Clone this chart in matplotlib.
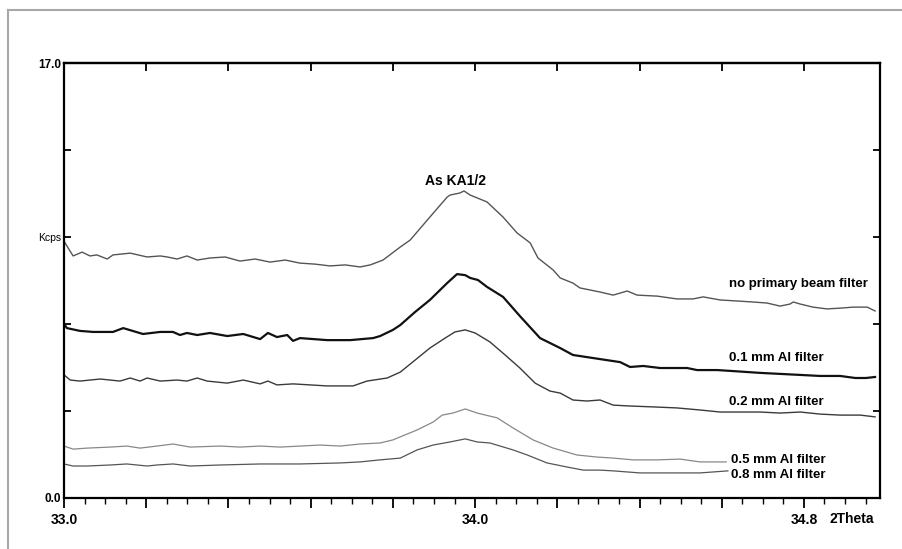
import matplotlib
matplotlib.use("Agg")
import matplotlib.pyplot as plt
from matplotlib.lines import Line2D

plt.rcParams['font.family'] = ['Liberation Sans', 'DejaVu Sans']

# 2Theta / Kcps values
theta_none = [33.000, 33.007, 33.022, 33.044, 33.063, 33.080, 33.105, 33.119, 33.161, 33.202,
              33.234, 33.251, 33.275, 33.299, 33.324, 33.355, 33.392, 33.428, 33.465, 33.501,
              33.538, 33.574, 33.611, 33.647, 33.684, 33.720, 33.745, 33.776, 33.818, 33.842,
              33.890, 33.932, 33.939, 33.963, 33.973, 33.988, 34.029, 34.068, 34.102, 34.134,
              34.153, 34.190, 34.207, 34.238, 34.255, 34.304, 34.336, 34.370, 34.394, 34.443,
              34.491, 34.530, 34.555, 34.596, 34.637, 34.676, 34.710, 34.742, 34.766, 34.774,
              34.791, 34.822, 34.856, 34.888, 34.920, 34.954, 34.973]
kcps_none = [10.04, 9.85, 9.46, 9.61, 9.46, 9.50, 9.34, 9.50, 9.57, 9.42,
             9.46, 9.42, 9.34, 9.46, 9.30, 9.38, 9.42, 9.26, 9.34, 9.22,
             9.30, 9.18, 9.14, 9.07, 9.11, 9.03, 9.11, 9.30, 9.81, 10.08,
             10.98, 11.76, 11.84, 11.92, 12.00, 11.84, 11.57, 10.98, 10.36, 9.97,
             9.38, 8.91, 8.60, 8.40, 8.21, 8.05, 7.93, 8.09, 7.93, 7.89,
             7.78, 7.78, 7.86, 7.74, 7.70, 7.66, 7.62, 7.50, 7.58, 7.66,
             7.58, 7.46, 7.39, 7.42, 7.46, 7.46, 7.31]

theta_01 = [33.000, 33.007, 33.039, 33.071, 33.119, 33.144, 33.192, 33.234, 33.265, 33.282,
            33.299, 33.324, 33.355, 33.397, 33.436, 33.477, 33.496, 33.518, 33.543, 33.557,
            33.574, 33.640, 33.696, 33.752, 33.769, 33.800, 33.818, 33.854, 33.890, 33.932,
            33.956, 33.976, 33.988, 34.007, 34.029, 34.068, 34.109, 34.158, 34.207, 34.238,
            34.287, 34.353, 34.377, 34.409, 34.450, 34.516, 34.540, 34.589, 34.628, 34.693,
            34.742, 34.791, 34.839, 34.888, 34.925, 34.951, 34.973]
kcps_01 = [6.80, 6.64, 6.53, 6.49, 6.49, 6.64, 6.41, 6.49, 6.49, 6.37,
           6.45, 6.37, 6.45, 6.33, 6.41, 6.21, 6.45, 6.29, 6.37, 6.14,
           6.25, 6.17, 6.17, 6.25, 6.33, 6.57, 6.76, 7.27, 7.74, 8.40,
           8.75, 8.71, 8.60, 8.52, 8.25, 7.86, 7.11, 6.25, 5.86, 5.59,
           5.47, 5.31, 5.12, 5.16, 5.08, 5.08, 5.00, 5.00, 4.96, 4.89,
           4.85, 4.81, 4.77, 4.77, 4.69, 4.69, 4.73]

theta_02 = [33.000, 33.015, 33.039, 33.088, 33.136, 33.161, 33.185, 33.202, 33.234, 33.275,
            33.299, 33.324, 33.348, 33.397, 33.436, 33.477, 33.496, 33.518, 33.557, 33.640,
            33.703, 33.737, 33.786, 33.818, 33.854, 33.890, 33.927, 33.951, 33.976, 34.000,
            34.036, 34.073, 34.109, 34.146, 34.182, 34.207, 34.238, 34.272, 34.304, 34.336,
            34.370, 34.433, 34.491, 34.547, 34.596, 34.693, 34.742, 34.791, 34.839, 34.888,
            34.937, 34.973]
kcps_02 = [4.81, 4.61, 4.57, 4.65, 4.57, 4.69, 4.57, 4.69, 4.57, 4.61,
           4.57, 4.69, 4.57, 4.49, 4.61, 4.46, 4.57, 4.42, 4.46, 4.38,
           4.38, 4.57, 4.69, 4.92, 5.39, 5.86, 6.25, 6.49, 6.57, 6.45,
           6.10, 5.59, 5.08, 4.49, 4.18, 4.10, 3.83, 3.79, 3.83, 3.63,
           3.60, 3.56, 3.52, 3.44, 3.36, 3.36, 3.32, 3.36, 3.28, 3.24,
           3.24, 3.17]

theta_05 = [33.000, 33.022, 33.056, 33.112, 33.153, 33.185, 33.226, 33.265, 33.307, 33.380,
            33.428, 33.477, 33.526, 33.574, 33.623, 33.672, 33.720, 33.769, 33.800, 33.859,
            33.898, 33.920, 33.946, 33.976, 34.005, 34.054, 34.092, 34.141, 34.190, 34.248,
            34.297, 34.336, 34.384, 34.443, 34.499, 34.547, 34.611]
kcps_05 = [2.03, 1.91, 1.95, 1.99, 2.03, 1.95, 2.03, 2.11, 1.99, 2.03,
           1.99, 2.03, 1.99, 2.03, 2.07, 2.03, 2.11, 2.15, 2.27, 2.66,
           2.97, 3.24, 3.32, 3.48, 3.32, 3.13, 2.74, 2.27, 1.95, 1.68,
           1.60, 1.56, 1.49, 1.49, 1.52, 1.41, 1.41]

theta_08 = [33.000, 33.022, 33.056, 33.112, 33.153, 33.202, 33.226, 33.265, 33.307, 33.380,
            33.477, 33.574, 33.672, 33.720, 33.769, 33.818, 33.859, 33.898, 33.939, 33.976,
            34.005, 34.036, 34.092, 34.127, 34.175, 34.224, 34.263, 34.304, 34.336, 34.401,
            34.457, 34.499, 34.547, 34.615]
kcps_08 = [1.33, 1.25, 1.25, 1.29, 1.33, 1.25, 1.29, 1.33, 1.25, 1.29,
           1.33, 1.33, 1.37, 1.41, 1.49, 1.56, 1.88, 2.07, 2.19, 2.31,
           2.19, 2.15, 1.88, 1.68, 1.37, 1.21, 1.09, 1.09, 1.06, 0.98,
           0.98, 0.98, 0.98, 1.06]

labels = ['no primary beam filter', '0.1 mm Al filter', '0.2 mm Al filter',
          '0.5 mm Al filter', '0.8 mm Al filter']
label_x = [34.618, 34.618, 34.618, 34.623, 34.623]
label_y = [8.36, 5.47, 3.75, 1.49, 0.90]

y_ticks = [0.0, 3.4, 6.8, 10.2, 13.6, 17.0]
y_ticklabels = ['0.0', '', '', 'Kcps', '', '17.0']
x_major = [33.0, 33.2, 33.4, 33.6, 33.8, 34.0, 34.2, 34.4, 34.6, 34.8]
x_ticklabels = ['33.0', '', '', '', '', '34.0', '', '', '', '34.8']

fig = plt.figure(figsize=(9.02, 5.49), dpi=100)
ax = fig.add_axes([0.071, 0.0929, 0.9046, 0.7923])

ax.plot(theta_none, kcps_none, color='#555555', linewidth=1.0)
ax.plot(theta_01, kcps_01, color='#111111', linewidth=1.6)
ax.plot(theta_02, kcps_02, color='#3a3a3a', linewidth=1.0)
ax.plot(theta_05, kcps_05, color='#888888', linewidth=0.9)
ax.plot(theta_08, kcps_08, color='#555555', linewidth=0.9)

for txt, lx, ly in zip(labels, label_x, label_y):
    ax.text(lx, ly, txt, fontsize=9.5, fontweight='bold', ha='left', va='center')
ax.text(33.951, 12.39, 'As KA1/2', fontsize=10, fontweight='bold', ha='center', va='center')

ax.set_xlim(33.0, 34.985)
ax.set_ylim(0, 17.0)

for s in ax.spines.values():
    s.set_linewidth(1.6)
    s.set_color('black')

ax.set_xticks(x_major)
ax.set_xticklabels(x_ticklabels, fontsize=10, fontweight='bold')
ax.set_xticks([33.0 + 0.05 * i for i in range(40)], minor=True)
ax.tick_params(axis='x', which='major', direction='out', length=7, width=1.3, pad=4, top=False)
ax.tick_params(axis='x', which='minor', direction='out', length=4, width=1.0, top=False)

ax.set_yticks(y_ticks)
ax.set_yticklabels(y_ticklabels)
ax.tick_params(axis='y', direction='in', length=5, width=1.3, left=True, right=True, pad=2)
for lab in ax.get_yticklabels():
    if lab.get_text() == 'Kcps':
        lab.set_fontsize(7.5)
    else:
        lab.set_fontsize(8.5)
        lab.set_fontweight('bold')

top = ax.secondary_xaxis('top')
top.set_xticks(x_major)
top.set_xticklabels([])
top.tick_params(direction='in', length=6, width=1.3)
top.spines['top'].set_linewidth(1.6)

fig.text(852 / 902, 1 - 519 / 549, '2Theta', fontsize=10, fontweight='bold', ha='center', va='center')

# grey frame of the original screenshot
fig.add_artist(Line2D([8 / 902, 8 / 902], [0, 1 - 10 / 549], color='#a8a8a8', linewidth=1.5))
fig.add_artist(Line2D([8 / 902, 1], [1 - 10 / 549, 1 - 10 / 549], color='#a8a8a8', linewidth=1.5))

fig.savefig('out.png', dpi=100)
